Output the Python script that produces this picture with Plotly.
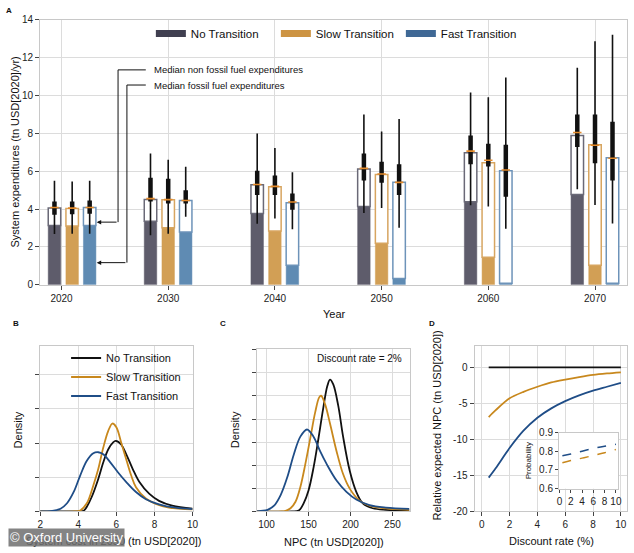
import plotly.graph_objects as go

W, H = 634, 553
FONT = "Liberation Sans, Arial, sans-serif"


def px2x(px):
    return px / W


def py2y(py):
    return 1 - py / H


# ---------------- Panel A data ----------------
scenarios = ["No Transition", "Slow Transition", "Fast Transition"]
tick_years = [2020, 2030, 2040, 2050, 2060, 2070]
group_years = [2021, 2030, 2040, 2050, 2060, 2070]

fossil_no = [3.13, 3.36, 3.77, 4.13, 4.39, 4.77]
fossil_slow = [3.10, 3.01, 2.84, 2.20, 1.46, 1.03]
fossil_fast = [3.13, 2.79, 1.03, 0.34, 0.08, 0.08]

total_no = [4.05, 4.51, 5.28, 6.11, 6.97, 7.89]
total_slow = [4.03, 4.49, 5.18, 5.82, 6.44, 7.39]
total_fast = [4.08, 4.45, 4.34, 5.41, 6.03, 6.71]

low_no = [2.68, 2.62, 3.22, 3.79, 4.20, 5.05]
q1_no = [3.70, 4.40, 4.74, 5.51, 6.37, 7.28]
med_no = [4.08, 4.55, 5.30, 6.15, 7.06, 8.04]
q3_no = [4.40, 5.65, 6.03, 6.94, 7.89, 9.00]
high_no = [5.50, 6.94, 7.99, 8.99, 10.16, 11.46]

low_slow = [2.70, 2.70, 3.50, 4.05, 4.13, 4.22]
q1_slow = [3.72, 4.30, 4.74, 5.39, 6.25, 6.42]
med_slow = [4.05, 4.50, 5.20, 5.85, 6.58, 7.37]
q3_slow = [4.40, 5.60, 5.77, 6.50, 7.45, 9.00]
high_slow = [5.45, 6.60, 7.22, 8.09, 9.90, 12.86]

low_fast = [2.70, 3.60, 2.93, 3.01, 2.96, 3.24]
q1_fast = [3.75, 4.30, 3.96, 4.74, 4.65, 5.51]
med_fast = [4.08, 4.45, 4.37, 5.41, 6.06, 6.68]
q3_fast = [4.45, 5.00, 4.82, 6.37, 7.40, 8.61]
high_fast = [5.50, 6.23, 5.94, 8.75, 10.95, 13.20]

# ---------------- Panel B data (density, relative units) ----------------
b_no_x = [2.0, 3.5, 4.0, 4.28, 4.45, 4.71, 5.05, 5.31, 5.57, 5.83, 5.97, 6.26, 6.52, 6.86, 7.21, 7.72, 8.24, 8.93, 10.0]
b_no_y = [0, 0, 0.005, 0.02, 0.14, 0.43, 0.95, 1.43, 1.81, 2.02, 2.06, 1.95, 1.67, 1.24, 0.86, 0.52, 0.31, 0.17, 0.08]
b_slow_x = [2.0, 3.8, 4.1, 4.45, 4.79, 5.05, 5.31, 5.57, 5.79, 6.0, 6.26, 6.52, 6.78, 7.03, 7.55, 8.07, 8.76, 10.0]
b_slow_y = [0, 0, 0.03, 0.24, 0.76, 1.24, 1.86, 2.35, 2.57, 2.46, 2.0, 1.52, 1.05, 0.71, 0.38, 0.22, 0.11, 0.06]
b_fast_x = [2.0, 2.55, 3.07, 3.41, 3.76, 4.1, 4.45, 4.79, 5.05, 5.31, 5.66, 6.09, 6.52, 7.03, 7.55, 8.24, 9.1, 10.0]
b_fast_y = [0, 0.01, 0.08, 0.24, 0.57, 1.05, 1.48, 1.70, 1.73, 1.67, 1.45, 1.14, 0.86, 0.57, 0.36, 0.21, 0.11, 0.07]

# ---------------- Panel C data (density, relative units) ----------------
c_no_x = [88, 130, 138.4, 144.2, 150.1, 156, 161.9, 167.7, 172.4, 175.6, 179.5, 185.4, 191.2, 199.1, 206.9, 214.7, 226.5, 242.1, 270]
c_no_y = [0, 0, 0.04, 0.35, 0.92, 1.9, 3.17, 4.51, 5.43, 5.71, 5.5, 4.58, 3.24, 1.76, 0.85, 0.35, 0.14, 0.07, 0.04]
c_slow_x = [88, 118, 122.7, 128.6, 134.5, 140.3, 146.2, 152.1, 158, 162.7, 165, 169.7, 175.6, 183.4, 191.2, 199.1, 210.8, 222.6, 242.1, 270]
c_slow_y = [0, 0, 0.03, 0.14, 0.42, 1.06, 2.05, 3.17, 4.30, 4.94, 5.01, 4.65, 3.81, 2.61, 1.62, 0.99, 0.47, 0.25, 0.13, 0.07]
c_fast_x = [88, 93.3, 101.2, 109, 116.8, 124.7, 132.5, 140.3, 148.2, 156, 163.8, 171.7, 183.4, 195.2, 206.9, 222.6, 242.1, 270]
c_fast_y = [0, 0.03, 0.07, 0.25, 0.71, 1.48, 2.47, 3.24, 3.55, 3.24, 2.61, 2.05, 1.34, 0.85, 0.52, 0.28, 0.17, 0.11]

# ---------------- Panel D data ----------------
disc_rate = [0.5, 1, 2, 3, 4, 5, 6, 7, 8, 9, 10]
rel_no = [0, 0, 0, 0, 0, 0, 0, 0, 0, 0, 0]
rel_slow = [-6.9, -5.95, -4.3, -3.4, -2.7, -2.1, -1.7, -1.35, -1.05, -0.85, -0.7]
rel_fast = [-15.3, -14.0, -11.2, -8.8, -7.0, -5.7, -4.7, -3.9, -3.25, -2.7, -2.15]

prob_x = [0.5, 2, 4, 6, 8, 10]
prob_fast = [0.776, 0.785, 0.800, 0.815, 0.827, 0.837]
prob_slow = [0.738, 0.750, 0.763, 0.777, 0.792, 0.809]
prob_range = [0.6, 0.9]
prob_x_range = [-0.1, 10.4]

# ---------------- styles ----------------
bar_fill = ["#5e5c6b", "#d29f55", "#5f8bb3"]
bar_edge = ["#6a6977", "#d7a560", "#6d93b9"]
legend_swatch = ["#403f50", "#cd9443", "#3f6895"]
line_col = ["#111111", "#c8881d", "#1f4d87"]
median_col = "#e48a2a"
GRID = "#dcdcdc"
FRAME = "#c8c8c8"

bar_shift = [-1.66, 0.0, 1.64]
bar_width = 1.17

fig = go.Figure()

fossil = [fossil_no, fossil_slow, fossil_fast]
total = [total_no, total_slow, total_fast]
lows = [low_no, low_slow, low_fast]
q1s = [q1_no, q1_slow, q1_fast]
meds = [med_no, med_slow, med_fast]
q3s = [q3_no, q3_slow, q3_fast]
highs = [high_no, high_slow, high_fast]

for i, name in enumerate(scenarios):
    fig.add_trace(go.Bar(
        x=group_years, y=fossil[i], width=bar_width, offset=bar_shift[i] - bar_width / 2,
        marker=dict(color=bar_fill[i], line=dict(color=bar_fill[i], width=0.5)),
        xaxis="x", yaxis="y", showlegend=False, hoverinfo="skip"))
    fig.add_trace(go.Bar(
        x=group_years, y=[t - f for t, f in zip(total[i], fossil[i])], base=fossil[i],
        width=bar_width, offset=bar_shift[i] - bar_width / 2,
        marker=dict(color="white", line=dict(color=bar_edge[i], width=1.5)),
        xaxis="x", yaxis="y", showlegend=False, hoverinfo="skip"))

for i, name in enumerate(scenarios):
    xs_thin, ys_thin, xs_thick, ys_thick = [], [], [], []
    for g, lo, a, b, hi in zip(group_years, lows[i], q1s[i], q3s[i], highs[i]):
        xc = g + bar_shift[i]
        xs_thin += [xc, xc, None]
        ys_thin += [lo, hi, None]
        xs_thick += [xc, xc, None]
        ys_thick += [a, b, None]
    fig.add_trace(go.Scatter(x=xs_thin, y=ys_thin, mode="lines", line=dict(color="#111111", width=1.6),
                             xaxis="x", yaxis="y", showlegend=False, hoverinfo="skip"))
    fig.add_trace(go.Scatter(x=xs_thick, y=ys_thick, mode="lines", line=dict(color="#111111", width=4.5),
                             xaxis="x", yaxis="y", showlegend=False, hoverinfo="skip"))
    fig.add_trace(go.Scatter(x=[g + bar_shift[i] for g in group_years], y=meds[i], mode="markers",
                             marker=dict(symbol="line-ew", size=6, line=dict(color=median_col, width=1.6)),
                             xaxis="x", yaxis="y", showlegend=False, hoverinfo="skip"))

# callout lines in panel A
callouts = [
    ("Median non fossil fuel expenditures", 11.35, 2025.3, 3.31),
    ("Median fossil fuel expenditures", 10.55, 2026.13, 1.17),
]
for text, ty, xcorner, ytarget in callouts:
    fig.add_trace(go.Scatter(x=[2027.9, xcorner, xcorner], y=[ty, ty, ytarget], mode="lines",
                             line=dict(color="#111111", width=1), xaxis="x", yaxis="y",
                             showlegend=False, hoverinfo="skip"))

# legend entries for panel A (bar swatches)
for i, name in enumerate(scenarios):
    fig.add_trace(go.Scatter(x=[None], y=[None], mode="lines", name=name,
                             line=dict(color=legend_swatch[i], width=7),
                             xaxis="x", yaxis="y", legend="legend"))

# Panel B
for xs, ys, i in [(b_no_x, b_no_y, 0), (b_slow_x, b_slow_y, 1), (b_fast_x, b_fast_y, 2)]:
    fig.add_trace(go.Scatter(x=xs, y=ys, mode="lines", name=scenarios[i],
                             line=dict(color=line_col[i], width=1.8, shape="spline", smoothing=1.0),
                             xaxis="x2", yaxis="y2", legend="legend2"))

# Panel C
for xs, ys, i in [(c_no_x, c_no_y, 0), (c_slow_x, c_slow_y, 1), (c_fast_x, c_fast_y, 2)]:
    fig.add_trace(go.Scatter(x=xs, y=ys, mode="lines", showlegend=False,
                             line=dict(color=line_col[i], width=1.8, shape="spline", smoothing=1.0),
                             xaxis="x3", yaxis="y3"))

# Panel D
for ys, i in [(rel_no, 0), (rel_slow, 1), (rel_fast, 2)]:
    fig.add_trace(go.Scatter(x=disc_rate, y=ys, mode="lines", showlegend=False,
                             line=dict(color=line_col[i], width=1.8, shape="spline", smoothing=0.8),
                             xaxis="x4", yaxis="y4"))

# Inset: white background (hides panel D grid) then dashed lines
fig.add_trace(go.Scatter(x=[prob_x_range[0], prob_x_range[1], prob_x_range[1], prob_x_range[0], prob_x_range[0]],
                         y=[prob_range[0], prob_range[0], prob_range[1], prob_range[1], prob_range[0]],
                         mode="lines", fill="toself", fillcolor="white", line=dict(width=0, color="white"),
                         xaxis="x5", yaxis="y5", showlegend=False, hoverinfo="skip"))
for ys, i in [(prob_fast, 2), (prob_slow, 1)]:
    fig.add_trace(go.Scatter(x=prob_x, y=ys, mode="lines", showlegend=False,
                             line=dict(color=line_col[i], width=1.5, dash="dash", shape="spline"),
                             xaxis="x5", yaxis="y5"))


def axis(domain, rng, anchor, **kw):
    d = dict(domain=domain, range=rng, anchor=anchor, showline=True, linecolor=FRAME, linewidth=1,
             mirror=True, ticks="outside", tickcolor="#444444", ticklen=4, tickwidth=1,
             showgrid=True, gridcolor=GRID, gridwidth=1, zeroline=False,
             tickfont=dict(size=10, color="#222222", family=FONT))
    d.update(kw)
    return d


ya_bottom, ya_top = py2y(285), py2y(14)
yb_bottom, yb_top = py2y(516.7), py2y(347.7)

fig.update_layout(
    width=W, height=H, margin=dict(l=0, r=0, t=0, b=0),
    paper_bgcolor="white", plot_bgcolor="white",
    font=dict(family=FONT, size=11, color="#111111"),
    barmode="overlay",
    xaxis=axis([px2x(37.7), px2x(633)], [2018, 2073], "y", tickvals=tick_years),
    yaxis=axis([ya_bottom, ya_top], [0, 14], "x", tickvals=[0, 2, 4, 6, 8, 10, 12, 14]),
    xaxis2=axis([px2x(37.7), px2x(192.3)], [2, 10], "y2", tickvals=[2, 4, 6, 8, 10]),
    yaxis2=axis([yb_bottom, yb_top], [0, 4.83], "x2", tickvals=[0, 1, 2, 3, 4], showticklabels=False),
    xaxis3=axis([px2x(257.7), px2x(412.7)], [88.7, 270.7], "y3", tickvals=[100, 150, 200, 250]),
    yaxis3=axis([yb_bottom, py2y(350.7)], [0, 7.03], "x3", tickvals=[0, 1, 2, 3, 4, 5, 6, 7], showticklabels=False),
    xaxis4=axis([px2x(478.3), px2x(632.7)], [-0.52, 10.42], "y4", tickvals=[0, 2, 4, 6, 8, 10]),
    yaxis4=axis([yb_bottom, yb_top], [-20, 2.93], "x4", tickvals=[0, -5, -10, -15, -20],
                ticktext=["0", "-5", "-10", "-15", "-20"]),
    xaxis5=axis([px2x(564), px2x(624)], prob_x_range, "y5", tickvals=[0, 2, 4, 6, 8, 10], showgrid=False,
                ticklen=3),
    yaxis5=axis([py2y(493.3), py2y(436)], prob_range, "x5", tickvals=[0.6, 0.7, 0.8, 0.9], showgrid=False,
                ticklen=3),
    legend=dict(orientation="h", x=px2x(150), y=py2y(28), xanchor="left", yanchor="middle",
                entrywidth=80, entrywidthmode="pixels",
                bgcolor="rgba(0,0,0,0)", font=dict(size=11.5, family=FONT)),
    legend2=dict(orientation="v", x=px2x(64), y=py2y(345), xanchor="left", yanchor="top",
                 bgcolor="rgba(0,0,0,0)", font=dict(size=11, family=FONT)),
)

for text, ty, xcorner, ytarget in callouts:
    fig.add_annotation(x=2023.3, y=ytarget, ax=xcorner, ay=ytarget, xref="x", yref="y",
                       axref="x", ayref="y", text="", showarrow=True, arrowhead=2, arrowsize=0.9,
                       arrowwidth=1, arrowcolor="#111111")
    fig.add_annotation(x=2028.5, y=ty, xref="x", yref="y", text=text, showarrow=False,
                       xanchor="left", yanchor="middle", font=dict(size=9.5, color="#111111"))

# text labels (titles, panel letters)
labels = [
    ("System expenditures (tn USD[2020]/yr)", 12, 149, -90, 11),
    ("Year", 336, 315, 0, 11),
    ("Density", 15, 433, -90, 11),
    ("System cost in 2050 (tn USD[2020])", 112, 547, 0, 11),
    ("Density", 235, 433, -90, 11),
    ("NPC (tn USD[2020])", 336, 547.5, 0, 11),
    ("Discount rate = 2%", 361.7, 360, 0, 10),
    ("Relative expected NPC (tn USD[2020])", 440, 429, -90, 11),
    ("Discount rate (%)", 556.7, 547, 0, 11),
    ("Probability", 533, 465, -90, 8),
    ("<b>A</b>", 6, 5, 0, 8),
    ("<b>B</b>", 13, 325, 0, 8),
    ("<b>C</b>", 223, 325, 0, 8),
    ("<b>D</b>", 435, 325, 0, 8),
]
for text, x, y, ang, size in labels:
    fig.add_annotation(x=px2x(x), y=py2y(y), xref="paper", yref="paper", text=text, showarrow=False,
                       textangle=ang, xanchor="center", yanchor="middle",
                       font=dict(size=size, color="#111111", family=FONT))

# watermark of the source image
fig.add_annotation(x=px2x(5), y=0, xref="paper", yref="paper", xanchor="left", yanchor="bottom",
                   text="© Oxford University", showarrow=False, bgcolor="rgba(110,110,110,0.85)",
                   font=dict(size=13, color="white", family=FONT), borderpad=1)

fig.write_html("out.html", config={"displayModeBar": False},
               post_script="document.body.style.margin='0px';document.body.style.overflow='hidden';")
